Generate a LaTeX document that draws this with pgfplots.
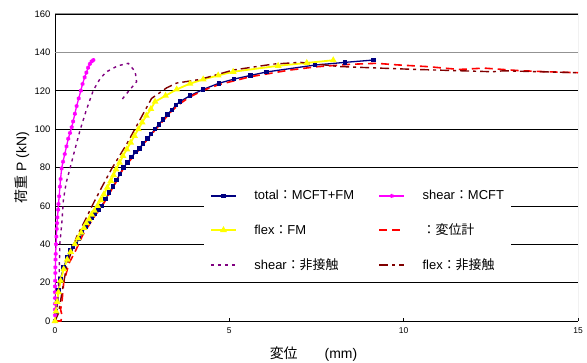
\documentclass[border=0pt]{standalone}
\usepackage{fontspec}
\setmainfont{Liberation Sans}
\newfontfamily\jp{Noto Sans CJK JP}
\usepackage{pgfplots}
\pgfplotsset{compat=1.18}
\usetikzlibrary{calc}
\definecolor{navy}{RGB}{0,0,128}
\definecolor{mag}{RGB}{255,0,255}
\definecolor{yel}{RGB}{255,255,0}
\definecolor{purp}{RGB}{128,0,128}
\definecolor{dred}{RGB}{128,0,0}
\begin{document}
\begin{tikzpicture}
\begin{axis}[
  scale only axis, width=523bp, height=307bp,
  xmin=0, xmax=15, ymin=0, ymax=160,
  axis x line*=bottom, axis y line*=left,
  axis line style={black, line width=0.8bp},
  xtick={0,5,10,15}, ytick={0,20,...,160},
  ymajorgrids, grid style={black, line width=0.6bp},
  /pgf/number format/assume math mode=true,
  yticklabel style={font=\fontsize{9.5}{10}\selectfont, xshift=-1bp},
  xticklabel style={font=\fontsize{8.5}{9}\selectfont, yshift=-3bp},
  xtick style={black, line width=0.6bp}, ytick style={draw=none},
  major tick length=3bp, tick align=inside,
  legend image code/.code={\draw[mark repeat=2,mark phase=2,#1] plot coordinates {(0bp,0bp)(12.5bp,0bp)(25bp,0bp)};},
  legend style={at={(axis cs:4.27,71.5)}, anchor=north west, draw=none, fill=white,
    font=\fontsize{13}{13}\selectfont, row sep=19.5bp, inner xsep=6bp, inner ysep=5bp,
    /tikz/every odd column/.append style={column sep=16bp},
    /tikz/every even column/.append style={column sep=23bp},
    nodes={inner sep=1.5bp}},
  legend columns=2, legend cell align=left,
]
\coordinate (O) at (rel axis cs:0,0);
\coordinate (T) at (rel axis cs:1,1);
\draw[gray!85, line width=1.6bp] (axis cs:0,140) -- (axis cs:15,140);
\draw[gray!85, line width=1bp] (rel axis cs:0,1) -- (rel axis cs:1,1) -- (rel axis cs:1,0);

\addplot[navy, line width=1.3bp, mark=square*, mark size=1.6bp, mark options={solid}] coordinates {
(0,0)(0.03,5)(0.06,10)(0.1,16)(0.16,22)(0.25,28)(0.35,33)(0.45,37)(0.52,38.5)(0.6,40)(0.69,43)(0.78,46)(0.87,49)(0.97,51.5)(1.06,54)(1.15,56)(1.25,58)(1.34,60)(1.45,63.5)(1.55,67)(1.66,70)(1.77,73.5)(1.86,76.5)(1.96,80)(2.08,82.5)(2.2,85.5)(2.31,88)(2.42,90)(2.53,92.5)(2.65,95)(2.76,97.5)(2.87,100)(2.98,102.5)(3.1,105)(3.22,107.5)(3.35,110)(3.47,112.5)(3.58,114.3)(3.87,117.4)(4.25,120.7)(4.70,123.9)(5.14,126.1)(5.61,128.0)(6.07,129.8)(7.46,133.4)(8.32,134.8)(9.13,136.0)};
\addlegendentry{total{\jp ：}MCFT+FM}

\addplot[mag, line width=1.3bp, mark=asterisk, mark size=2bp, mark options={solid}] coordinates {
(0,0)(0,3)(0,6)(0,9)(0,12)(0,15)(0,18)(0.005,21)(0.01,25)(0.01,28)(0.015,32)(0.02,35)(0.03,40)(0.04,44)(0.05,48)(0.06,51)(0.07,54)(0.09,58)(0.1,61)(0.12,65)(0.14,70)(0.16,74)(0.19,79.5)(0.23,83)(0.28,87)(0.33,91)(0.38,95)(0.43,98)(0.48,101)(0.52,104)(0.57,108)(0.62,112)(0.68,116)(0.74,120)(0.79,123.5)(0.85,127)(0.9,129.5)(0.95,132)(1.0,134)(1.05,135.3)(1.1,136)};
\addlegendentry{shear{\jp ：}MCFT}

\addplot[yel, line width=1.8bp, mark=triangle*, mark size=2.2bp, mark options={solid}] coordinates {
(0,0)(0.03,5)(0.06,10)(0.1,15)(0.16,21)(0.25,27)(0.35,32)(0.45,36)(0.57,40)(0.66,43)(0.75,46)(0.83,48.5)(0.9,51)(0.98,53)(1.05,55.5)(1.13,57.5)(1.22,60)(1.31,63)(1.4,66)(1.5,69.5)(1.6,73)(1.68,76)(1.75,79)(1.85,82.5)(1.95,86)(2.06,89.5)(2.17,93)(2.28,96.5)(2.39,100)(2.5,103.5)(2.62,107)(2.75,110.5)(2.87,114.3)(3.17,117.4)(3.49,120.7)(3.87,123.7)(4.25,125.9)(4.68,128.0)(5.11,129.9)(6.40,133.0)(7.22,134.5)(7.98,135.9)};
\addlegendentry{flex{\jp ：}FM}

\addplot[red, line width=1.6bp, dash pattern=on 8bp off 5bp] coordinates {
(0,0)(0.17,0)(0.2,3)(0.16,6)(0.2,10)(0.25,20)(0.4,30)(0.6,37)(0.8,45)(1.15,55)(1.34,59.5)(1.77,73)(1.96,79.5)(2.42,89.5)(2.87,99.5)(3.35,109.5)(3.6,113.5)(3.87,116.8)(4.25,120.2)(4.7,123.2)(5.6,127.3)(6.74,130.8)(7.5,132.5)(8.5,133.8)(9.22,134.3)(9.8,133.5)(10.66,132.6)(11.6,131.1)(12.3,131.8)(13.3,130.5)(14.1,129.9)(15,129.4)};
\addlegendentry{{\jp ：変位計}}

\addplot[purp, line width=1.4bp, dash pattern=on 3bp off 4bp] coordinates {
(0,0)(0.08,10)(0.12,25)(0.14,40.5)(0.2,52)(0.24,63)(0.32,72)(0.43,79.5)(0.58,90)(0.72,99.5)(0.9,110)(1.1,120.3)(1.3,126.5)(1.48,129.9)(1.8,133)(2.1,134.3)(2.3,130)(2.34,124.7)(2.1,119.5)(1.91,115.2)};
\addlegendentry{shear{\jp ：非接触}}

\addplot[dred, line width=1.4bp, dash pattern=on 9bp off 4bp on 3bp off 4bp] coordinates {
(0,0)(0.1,4)(0.2,15)(0.34,29.2)(0.62,43.9)(0.85,52)(1.1,61.3)(1.35,70)(1.63,79.5)(2.05,92)(2.44,105)(2.77,116)(3.2,121.5)(3.49,124)(4.16,125.9)(5.11,130.8)(6.26,133.9)(7.03,134.8)(8.17,132.6)(9.6,131.6)(10.37,131.1)(12.56,129.9)(12.86,130.4)(15,129.4)};
\addlegendentry{flex{\jp ：非接触}}
\end{axis}
\node[rotate=90, font=\fontsize{14}{14}\selectfont] at ($(O)!0.5!(O|-T)+(-33bp,0)$) {{\jp 荷重} P (kN)};
\node[anchor=base, font=\fontsize{14}{14}\selectfont] at ($(O)!0.5!(T|-O)+(-3bp,-37bp)$) {{\jp 変位}\hspace{27bp}(mm)};
\pgfresetboundingbox
\path ($(O)+(-55bp,-42bp)$) rectangle ($(T)+(9bp,14bp)$);
\end{tikzpicture}
\end{document}
